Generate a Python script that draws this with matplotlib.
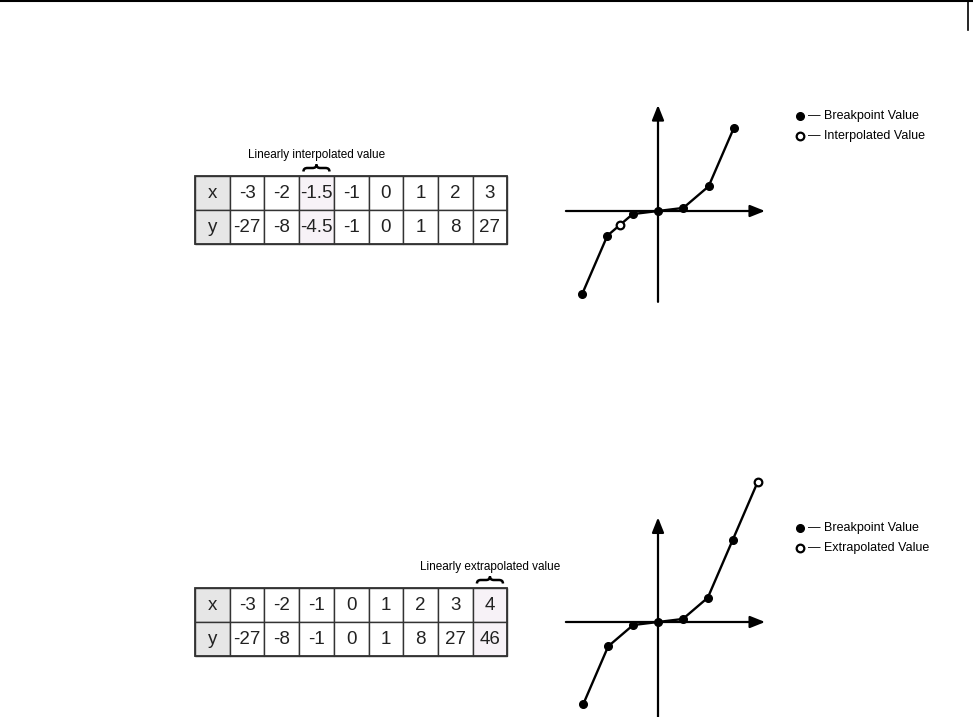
import matplotlib
matplotlib.use('Agg')
import matplotlib.pyplot as plt
from matplotlib.path import Path
from matplotlib.patches import PathPatch, Rectangle, ArrowStyle
import numpy as np

plt.rcParams['font.family'] = ['Liberation Sans', 'DejaVu Sans']

W, H = 973, 717

# interpolation example
x_top = [-3, -2, -1.5, -1, 0, 1, 2, 3]
y_top = [-27, -8, -4.5, -1, 0, 1, 8, 27]
hl_top = 2  # interpolated column
label_top = 'Linearly interpolated value'
legend_top = ['\u2014 Breakpoint Value', '\u2014 Interpolated Value']

# extrapolation example
x_bot = [-3, -2, -1, 0, 1, 2, 3, 4]
y_bot = [-27, -8, -1, 0, 1, 8, 27, 46]
hl_bot = 7  # extrapolated column
label_bot = 'Linearly extrapolated value'
legend_bot = ['\u2014 Breakpoint Value', '\u2014 Extrapolated Value']

fig = plt.figure(figsize=(W / 100, H / 100), dpi=100)
bg = fig.add_axes([0, 0, 1, 1])
bg.set_xlim(0, W)
bg.set_ylim(H, 0)
bg.axis('off')

# page frame at top
bg.plot([0, W], [1, 1], color='k', lw=1.5, solid_capstyle='butt')
bg.plot([968, 968], [0, 30], color='k', lw=1.2)


def fmt(v):
    return ('%g' % v)


def brace(ax, x0, x1, y, h):
    xm = (x0 + x1) / 2
    d = (x1 - x0) * 0.15
    verts = [(x0, y + h / 2), (x0, y), (x0 + d, y),
             (xm - d, y), (xm, y), (xm, y - h / 2),
             (xm, y), (xm + d, y),
             (x1 - d, y), (x1, y), (x1, y + h / 2)]
    codes = [Path.MOVETO, Path.CURVE3, Path.CURVE3,
             Path.LINETO, Path.CURVE3, Path.CURVE3,
             Path.CURVE3, Path.CURVE3,
             Path.LINETO, Path.CURVE3, Path.CURVE3]
    ax.add_patch(PathPatch(Path(verts, codes), fc='none', ec='k', lw=1.8))


def draw_table(ax, xs, ys, hl, label, left, top):
    cw = 34.7
    rh = 34
    ncol = len(xs) + 1
    for r, (name, vals) in enumerate([('x', xs), ('y', ys)]):
        yy = top + r * rh
        for c in range(ncol):
            xx = left + c * cw
            if c == 0:
                fc = '#e6e6e6'
                txt = name
            else:
                fc = '#f7f2f7' if c - 1 == hl else 'white'
                txt = fmt(vals[c - 1])
            ax.add_patch(Rectangle((xx, yy), cw, rh, fc=fc, ec='#333333', lw=1.0))
            ax.text(xx + cw / 2, yy + rh / 2 + 1, txt, ha='center', va='center',
                    fontsize=13.5, color='#222222')
    # outer border
    ax.add_patch(Rectangle((left, top), cw * ncol, rh * 2, fc='none', ec='#333333', lw=1.3))
    cx = left + (hl + 1.5) * cw
    brace(ax, cx - 13, cx + 13, top - 8, 7)
    ax.text(cx, top - 21, label, ha='center', va='center', fontsize=8.5, color='k')


def draw_plot(xs, ys, hl, origin, sx, sy, xlim, ylim, xaxis, yaxis):
    ox, oy = origin
    lpx = ox + xlim[0] * sx
    rpx = ox + xlim[1] * sx
    tpx = oy - ylim[1] * sy
    bpx = oy - ylim[0] * sy
    ax = fig.add_axes([lpx / W, 1 - bpx / H, (rpx - lpx) / W, (bpx - tpx) / H])
    ax.set_xlim(*xlim)
    ax.set_ylim(*ylim)
    ax.axis('off')
    ax.patch.set_alpha(0)
    style = ArrowStyle('-|>', head_length=0.5, head_width=0.2)
    ax.annotate('', xy=(xaxis[1], 0), xytext=(xaxis[0], 0),
                arrowprops=dict(arrowstyle=style, color='k', lw=1.6,
                                mutation_scale=18, shrinkA=0, shrinkB=0),
                annotation_clip=False)
    ax.annotate('', xy=(0, yaxis[1]), xytext=(0, yaxis[0]),
                arrowprops=dict(arrowstyle=style, color='k', lw=1.6,
                                mutation_scale=18, shrinkA=0, shrinkB=0),
                annotation_clip=False)
    ax.plot(xs, ys, color='k', lw=1.7, clip_on=False, zorder=3)
    bx = [v for i, v in enumerate(xs) if i != hl]
    by = [v for i, v in enumerate(ys) if i != hl]
    ax.plot(bx, by, 'o', color='k', ms=5.5, clip_on=False, zorder=4)
    ax.plot([xs[hl]], [ys[hl]], 'o', mfc='white', mec='k', mew=1.6, ms=5.5,
            clip_on=False, zorder=5)
    return ax


def draw_legend(ax, x, y, labels):
    ax.plot([x], [y], 'o', color='k', ms=5.5)
    ax.plot([x], [y + 20], 'o', mfc='white', mec='k', mew=1.6, ms=5.5)
    for i, t in enumerate(labels):
        ax.text(x + 8, y + 20 * i, t, ha='left', va='center', fontsize=9, color='k')


draw_table(bg, x_top, y_top, hl_top, label_top, 195, 176)
draw_plot(x_top, y_top, hl_top, (658, 211), 25.3, 3.08, (-4, 5), (-33, 37),
          (-3.64, 4.23), (-29.5, 34.4))
draw_legend(bg, 800, 116, legend_top)

draw_table(bg, x_bot, y_bot, hl_bot, label_bot, 195, 588)
draw_plot(x_bot, y_bot, hl_bot, (658, 622), 24.9, 3.04, (-4, 5), (-31.5, 50),
          (-3.7, 4.3), (-31.5, 34.4))
draw_legend(bg, 800, 528, legend_bot)

fig.savefig('out.png', dpi=100)
